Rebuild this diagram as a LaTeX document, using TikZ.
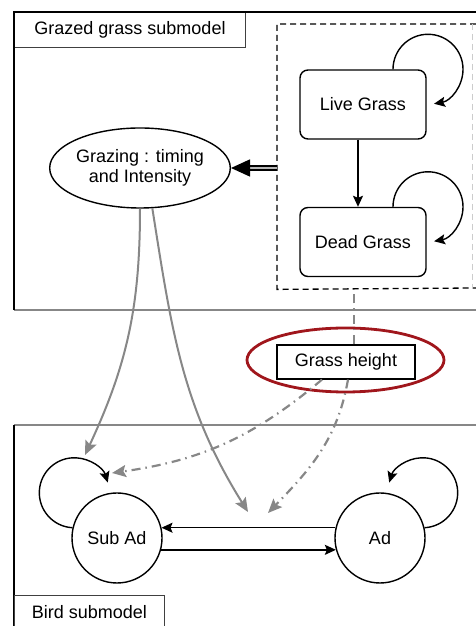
\documentclass[tikz,border=0pt]{standalone}
\usepackage{fontspec}
\setmainfont{Liberation Sans}
\usetikzlibrary{arrows.meta,shapes.geometric}
\definecolor{flowgray}{RGB}{135,135,135}
\definecolor{ringred}{RGB}{160,22,28}
\begin{document}
\begin{tikzpicture}[x=1pt, y=1pt, line width=1.4pt,
        every node/.style={font=\fontsize{18}{20}\selectfont},
        state/.style={draw, rounded corners=8pt, minimum width=126pt, minimum height=69pt},
        stage/.style={draw, circle, minimum size=90pt, inner sep=0pt},
        tip/.style={-{Stealth[length=11pt,width=10pt,inset=2pt]}},
        boxdash/.style={line width=1.3pt, dash pattern=on 6pt off 4pt},
        grayflow/.style={flowgray, line width=2pt, -{Stealth[length=14pt,width=12pt,inset=2.5pt]}},
        heightflow/.style={grayflow, line width=2.2pt, dash pattern=on 9pt off 5pt on 1.5pt off 5pt}]
    \useasboundingbox (0,0) rectangle (475,626);

    \node[draw=black!75, line width=1pt, minimum width=231pt, minimum height=35pt, anchor=north west] (grazetitle) at (14,614) {Grazed grass submodel};
    \draw[flowgray, line width=1.3pt] (14,316) -- (476,316);
    \draw[line width=2.6pt] (14,316) -- (14,614) -- (476,614);

    \node[minimum width=194pt, minimum height=264pt, anchor=north west] (grassbox) at (277,602) {};
    \draw[boxdash] (476,602) -- (grassbox.north west) -- (grassbox.south west) -- (476,338);
    \draw[boxdash, black!20] (grassbox.north east) -- (grassbox.south east);

    \node[state] (live) at (363,521.5) {Live Grass};
    \node[state] (dead) at (363,384) {Dead Grass};
    \draw[tip] ([xshift=-5pt]live.south) -- ([xshift=-5pt]dead.north);
    \draw[tip] ([xshift=30pt]live.north) arc[start angle=180, end angle=-80, radius=35];
    \draw[tip] ([xshift=30pt]dead.north) arc[start angle=180, end angle=-80, radius=35];

    \node[draw, ellipse, minimum width=160pt, minimum height=80pt, inner sep=0pt, align=center] (graze) at (140,458) {Grazing : timing\\and Intensity};
    \draw[double=flowgray!60, double distance=2.5pt, line width=1.5pt, -{Triangle[length=19pt,width=17pt]}] (grassbox.west |- graze.east) -- (graze.east);

    \node[draw, line width=1.2pt, minimum width=138pt, minimum height=34pt] (height) at (346,264) {Grass height};
    \node[draw=ringred, line width=2.8pt, ellipse, minimum width=197pt, minimum height=64pt] (ring) at (345.5,266) {};
    \draw[heightflow, -] ([xshift=8pt]height.north) -- ([xshift=8pt]height.north |- grassbox.south);

    \draw[flowgray, line width=1.3pt] (14,201) -- (476,201);
    \draw[line width=2.6pt] (14,201) -- (14,-5);
    \node[draw=black!75, line width=1pt, minimum width=150pt, minimum height=34pt, anchor=north west] (birdtitle) at (14,31) {Bird submodel};

    \node[stage] (subad) at (117,88) {Sub Ad};
    \node[stage] (ad) at (380,88) {Ad};
    \draw[tip] (ad.167) -- (subad.13);
    \draw[tip] (subad.-15) -- (ad.195);
    \draw[tip] (subad.167) arc[start angle=267, end angle=17, radius=35];
    \draw[tip] (ad.13) arc[start angle=-87, end angle=163, radius=35];

    \coordinate (subadloop) at (85,171);
    \coordinate (transfer) at (248,114);
    \coordinate (subadside) at (112,153);
    \coordinate (transferside) at (268,113);
    \draw[grayflow] (graze.south) to[out=-90, in=65] (subadloop);
    \draw[grayflow] (graze.-73) to[out=-81, in=122] (transfer);
    \draw[heightflow] ([xshift=-24pt]height.south) to[out=220, in=8] (subadside);
    \draw[heightflow] ([xshift=2pt]height.south) to[out=-100, in=46] (transferside);
\end{tikzpicture}
\end{document}
